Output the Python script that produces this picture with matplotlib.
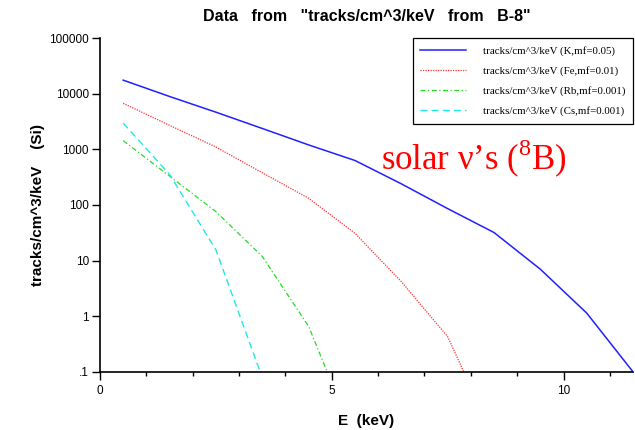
import numpy as np
import matplotlib.pyplot as plt

plt.rcParams['mathtext.fontset'] = 'custom'
plt.rcParams['mathtext.rm'] = 'Liberation Serif'

# energies (keV) and track rates
e_k = [0.5, 1.5, 2.5, 3.5, 4.5, 5.5, 6.5, 7.5, 8.5, 9.5, 10.5, 11.5]
k_vals = [17500, 8900, 4650, 2370, 1200, 630, 240, 86, 32, 7.0, 1.14, 0.1]

e_fe = [0.5, 1.5, 2.5, 3.5, 4.5, 5.5, 6.5, 7.5, 8.5]
fe_vals = [6700, 2700, 1100, 380, 132, 31, 4.2, 0.43, 0.0065]

e_rb = [0.5, 1.5, 2.5, 3.5, 4.5, 5.5]
rb_vals = [1430, 330, 76, 11.9, 0.66, 0.006]

e_cs = [0.5, 1.5, 2.5, 3.5]
cs_vals = [2950, 355, 15.6, 0.079]

labels = ["tracks/cm^3/keV (K,mf=0.05)",
          "tracks/cm^3/keV (Fe,mf=0.01)",
          "tracks/cm^3/keV (Rb,mf=0.001)",
          "tracks/cm^3/keV (Cs,mf=0.001)"]

y_ticks = [0.1, 1, 10, 100, 1000, 10000, 100000]
y_ticklabels = [".1", "1", "10", "100", "1000", "10000", "100000"]

fig = plt.figure(figsize=(6.35, 4.3), dpi=100)
ax = fig.add_axes([0.1575, 0.135, 0.8395, 0.7766])

ax.plot(e_k, k_vals, color='#2020ff', lw=1.1, ls='-', label=labels[0])
ax.plot(e_fe, fe_vals, color='#ff3030', lw=0.9, ls=(0, (1, 1)), label=labels[1])
ax.plot(e_rb, rb_vals, color='#20dd20', lw=0.9, ls=(0, (4, 2, 1, 2)), label=labels[2])
ax.plot(e_cs, cs_vals, color='#20e8e8', lw=1.0, ls=(0, (5, 3)), label=labels[3])

ax.set_yscale('log')
ax.set_xlim(0, 11.5)
ax.set_ylim(0.1, 100000)
ax.set_yticks(y_ticks)
ax.set_yticklabels(y_ticklabels)
ax.yaxis.set_minor_locator(plt.NullLocator())
ax.set_xticks([0, 5, 10])
ax.set_xticks(np.arange(0, 12, 1), minor=True)
ax.tick_params(axis='both', which='major', direction='out', length=6, width=1,
               labelsize=8.5, labelfontfamily='Liberation Sans')
ax.tick_params(axis='y', which='major', pad=2)
ax.tick_params(axis='x', which='minor', direction='out', length=3, width=1)
ax.spines['top'].set_visible(False)
ax.spines['right'].set_visible(False)
ax.spines['left'].set_linewidth(1.2)
ax.spines['bottom'].set_linewidth(1.2)

ax.set_title('Data   from   "tracks/cm^3/keV   from   B-8"', fontsize=11.5,
             fontweight='bold', family='Liberation Sans', pad=12)
ax.set_xlabel('E  (keV)', fontsize=11, fontweight='bold', family='Liberation Sans', labelpad=12)
ax.set_ylabel('tracks/cm^3/keV    (Si)', fontsize=11, fontweight='bold',
              family='Liberation Sans', labelpad=3)

leg = ax.legend(loc='upper right', bbox_to_anchor=(1.0, 1.0), borderaxespad=0,
                fancybox=False, shadow=False, edgecolor='black', framealpha=1,
                prop={'family': 'Liberation Serif', 'size': 7.8},
                handlelength=4.2, handletextpad=1.6, labelspacing=0.95, borderpad=0.7)
leg.get_frame().set_linewidth(0.9)

ax.text(0.527, 0.638, "solar ν’s ($^{8}$B)", transform=ax.transAxes, color='red',
        fontsize=25, family='Liberation Serif', va='center', ha='left')

fig.savefig('out.png')
